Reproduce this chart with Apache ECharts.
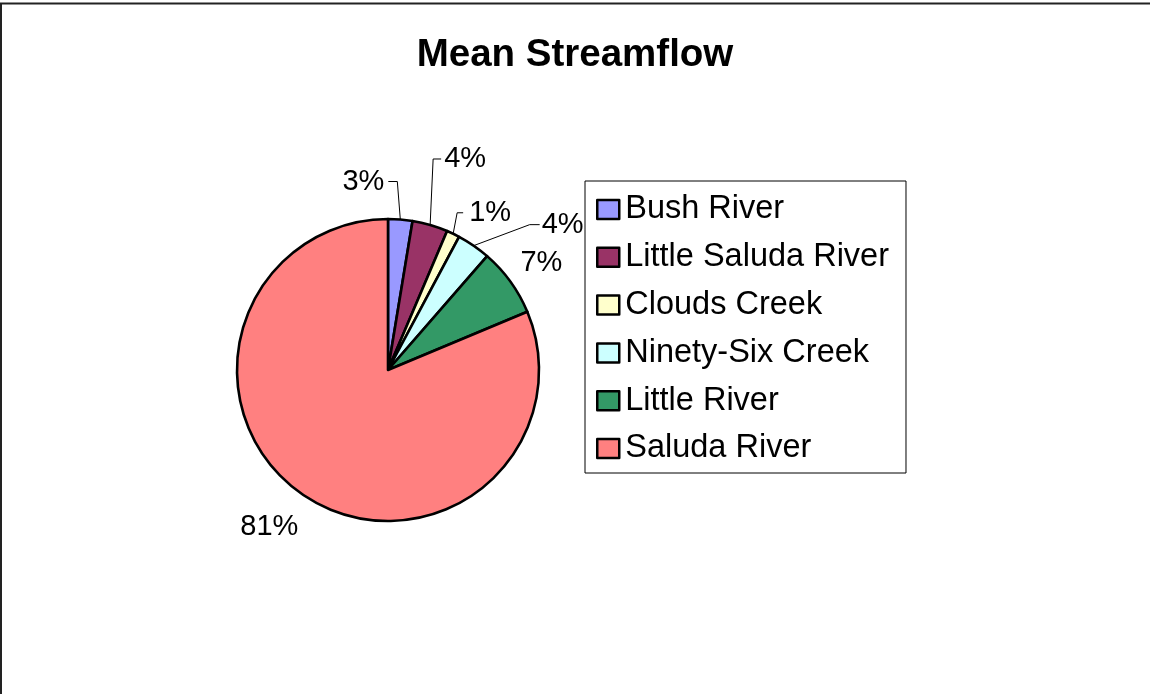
<!DOCTYPE html>
<html>
<head>
<meta charset="utf-8">
<title>Mean Streamflow</title>
<script src="https://cdn.jsdelivr.net/npm/echarts@6/dist/echarts.min.js"></script>
<style>
  html, body { margin: 0; padding: 0; background: #ffffff; }
  #chart { width: 1150px; height: 694px; }
</style>
</head>
<body>
<div id="chart"></div>
<script>
// Share of mean streamflow by stream (percent)
const streams = ['Bush River', 'Little Saluda River', 'Clouds Creek', 'Ninety-Six Creek', 'Little River', 'Saluda River'];
const meanFlowShare = [2.6, 3.8, 1.4, 3.6, 7.3, 81.3];
const sliceColors = ['#9999FF', '#993366', '#FFFFCC', '#CCFFFF', '#339966', '#FF8080'];

// Leader-line shape for each slice label, relative to the slice's outer edge point:
// rise = vertical run of the leader, lean = horizontal drift of that run,
// run = horizontal tail, side = which way the label hangs (-1 left, 1 right),
// line = whether a leader is drawn, gap = label distance from tail end.
const leaderStyle = [
  { rise: -38, lean: -3, run: 9, side: -1, line: true, gap: 4 },
  { rise: -66, lean: 3, run: 8, side: 1, line: true, gap: 3 },
  { rise: -21, lean: 4, run: 6, side: 1, line: true, gap: 6 },
  { rise: -21, lean: 56, run: 10, side: 1, line: true, gap: 2 },
  { rise: -19, lean: 10, run: 0, side: 1, line: false, gap: 0 },
  { rise: 31, lean: -6, run: 0, side: -1, line: false, gap: 0 }
];

const FONT = '"Liberation Sans", Arial, sans-serif';

const chart = echarts.init(document.getElementById('chart'), null, { renderer: 'canvas' });

const pieData = streams.map((name, i) => ({
  name: name,
  value: meanFlowShare[i],
  itemStyle: { color: sliceColors[i] }
}));

chart.setOption({
  backgroundColor: '#ffffff',
  animation: false,
  title: {
    text: 'Mean Streamflow',
    left: 'center',
    top: 31,
    textStyle: { fontFamily: FONT, fontWeight: 'bold', fontSize: 38.5, color: '#000000' }
  },
  legend: {
    orient: 'vertical',
    left: 585,
    top: 181,
    padding: [12, 17, 8, 11],
    itemGap: 14.8,
    itemWidth: 22,
    itemHeight: 19,
    icon: 'rect',
    borderColor: '#000000',
    borderWidth: 1,
    backgroundColor: '#ffffff',
    itemStyle: { borderColor: '#000000', borderWidth: 2.5 },
    textStyle: {
      fontFamily: FONT, fontSize: 32.5, color: '#000000',
      lineHeight: 30, padding: [0, 0, 0, 1]
    },
    data: streams
  },
  graphic: [
    {
      type: 'rect',
      shape: { x: 1, y: 3.5, width: 1400, height: 900 },
      style: { fill: 'none', stroke: '#222222', lineWidth: 2 },
      silent: true
    }
  ],
  series: [
    {
      type: 'pie',
      center: [388, 370],
      radius: 151,
      startAngle: 90,
      clockwise: true,
      avoidLabelOverlap: false,
      percentPrecision: 0,
      itemStyle: { borderColor: '#000000', borderWidth: 2.6 },
      emphasis: { disabled: true },
      label: {
        show: true,
        position: 'outside',
        formatter: '{d}%',
        fontFamily: FONT,
        fontSize: 29,
        color: '#000000'
      },
      labelLine: {
        show: true,
        length: 10,
        length2: 10,
        lineStyle: { color: '#000000', width: 1 }
      },
      labelLayout: function (p) {
        const pts = p.labelLinePoints;
        if (!pts) return {};
        const s = leaderStyle[p.dataIndex];
        const e = pts[0];
        const bend = [e[0] + s.lean, e[1] + s.rise];
        const end = [bend[0] + s.side * s.run, bend[1]];
        const out = {
          x: end[0] + s.side * s.gap,
          y: end[1],
          align: s.side < 0 ? 'right' : 'left',
          verticalAlign: 'middle'
        };
        out.labelLinePoints = s.line ? [e, bend, end] : [e, e, e];
        return out;
      },
      data: pieData
    }
  ]
});
</script>
</body>
</html>
